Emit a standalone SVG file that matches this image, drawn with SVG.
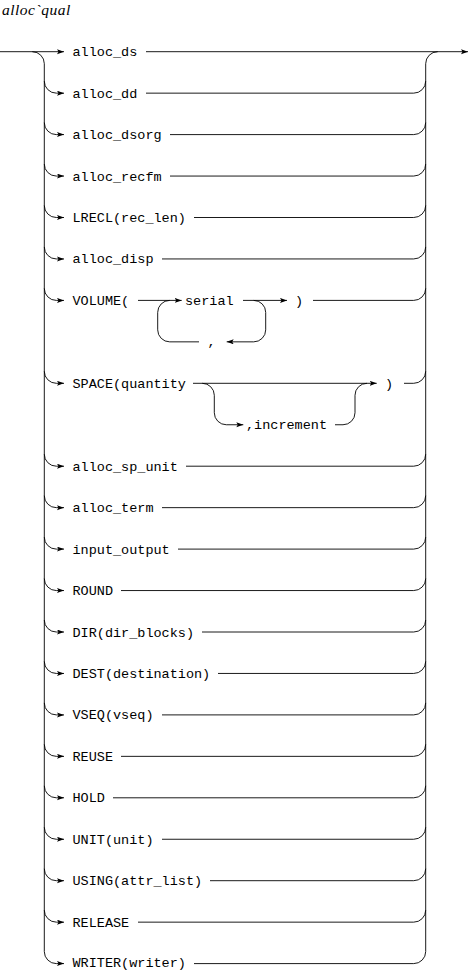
<svg xmlns="http://www.w3.org/2000/svg" width="469" height="970" viewBox="0 0 469 970">
<style>
.t{font-family:"Liberation Mono","DejaVu Sans Mono",monospace;font-size:13.5px;fill:#000}
.ti{font-family:"Liberation Serif","DejaVu Serif",serif;font-style:italic;font-size:15.5px;fill:#000}
#conn path{fill:none;stroke:#000;stroke-width:0.9}
.ar{marker-end:url(#a)}
</style>
<defs>
<marker id="a" markerUnits="userSpaceOnUse" markerWidth="8" markerHeight="6" refX="7" refY="2.5" orient="auto"><path d="M0,0 L7,2.5 L0,5 L1.5,2.5 Z" fill="#000"/></marker>
</defs>
<rect width="469" height="970" fill="#fff"/>
<text class="ti" x="2" y="14.5" letter-spacing="0.5">alloc`qual</text>
<g id="conn">
<path class="ar" d="M0,51.7 H64"/>
<path d="M32.3,51.7 A12,12 0 0 1 44.3,63.7 V951.6"/>
<path class="ar" d="M146,51.7 H468"/>
<path d="M425.7,951.6 V63.7 A12,12 0 0 1 437.7,51.7"/>
<!-- left branches -->
<path class="ar" d="M44.3,81.15 A12,12 0 0 0 56.3,93.15 H64"/>
<path class="ar" d="M44.3,122.6 A12,12 0 0 0 56.3,134.6 H64"/>
<path class="ar" d="M44.3,164.05 A12,12 0 0 0 56.3,176.05 H64"/>
<path class="ar" d="M44.3,205.5 A12,12 0 0 0 56.3,217.5 H64"/>
<path class="ar" d="M44.3,246.95 A12,12 0 0 0 56.3,258.95 H64"/>
<path class="ar" d="M44.3,288.4 A12,12 0 0 0 56.3,300.4 H64"/>
<path class="ar" d="M44.3,371.3 A12,12 0 0 0 56.3,383.3 H64"/>
<path class="ar" d="M44.3,454.2 A12,12 0 0 0 56.3,466.2 H64"/>
<path class="ar" d="M44.3,495.65 A12,12 0 0 0 56.3,507.65 H64"/>
<path class="ar" d="M44.3,537.1 A12,12 0 0 0 56.3,549.1 H64"/>
<path class="ar" d="M44.3,578.55 A12,12 0 0 0 56.3,590.55 H64"/>
<path class="ar" d="M44.3,620 A12,12 0 0 0 56.3,632 H64"/>
<path class="ar" d="M44.3,661.45 A12,12 0 0 0 56.3,673.45 H64"/>
<path class="ar" d="M44.3,702.9 A12,12 0 0 0 56.3,714.9 H64"/>
<path class="ar" d="M44.3,744.35 A12,12 0 0 0 56.3,756.35 H64"/>
<path class="ar" d="M44.3,785.8 A12,12 0 0 0 56.3,797.8 H64"/>
<path class="ar" d="M44.3,827.25 A12,12 0 0 0 56.3,839.25 H64"/>
<path class="ar" d="M44.3,868.7 A12,12 0 0 0 56.3,880.7 H64"/>
<path class="ar" d="M44.3,910.15 A12,12 0 0 0 56.3,922.15 H64"/>
<path class="ar" d="M44.3,951.6 A12,12 0 0 0 56.3,963.6 H64"/>
<!-- right joins -->
<path d="M146,93.15 H413.7 A12,12 0 0 0 425.7,81.15"/>
<path d="M170,134.6 H413.7 A12,12 0 0 0 425.7,122.6"/>
<path d="M170,176.05 H413.7 A12,12 0 0 0 425.7,164.05"/>
<path d="M194,217.5 H413.7 A12,12 0 0 0 425.7,205.5"/>
<path d="M162,258.95 H413.7 A12,12 0 0 0 425.7,246.95"/>
<path d="M313,300.4 H413.7 A12,12 0 0 0 425.7,288.4"/>
<path d="M404,383.3 H413.7 A12,12 0 0 0 425.7,371.3"/>
<path d="M186,466.2 H413.7 A12,12 0 0 0 425.7,454.2"/>
<path d="M162,507.65 H413.7 A12,12 0 0 0 425.7,495.65"/>
<path d="M178,549.1 H413.7 A12,12 0 0 0 425.7,537.1"/>
<path d="M121,590.55 H413.7 A12,12 0 0 0 425.7,578.55"/>
<path d="M202,632 H413.7 A12,12 0 0 0 425.7,620"/>
<path d="M218,673.45 H413.7 A12,12 0 0 0 425.7,661.45"/>
<path d="M162,714.9 H413.7 A12,12 0 0 0 425.7,702.9"/>
<path d="M121,756.35 H413.7 A12,12 0 0 0 425.7,744.35"/>
<path d="M113,797.8 H413.7 A12,12 0 0 0 425.7,785.8"/>
<path d="M162,839.25 H413.7 A12,12 0 0 0 425.7,827.25"/>
<path d="M210,880.7 H413.7 A12,12 0 0 0 425.7,868.7"/>
<path d="M138,922.15 H413.7 A12,12 0 0 0 425.7,910.15"/>
<path d="M194,963.6 H413.7 A12,12 0 0 0 425.7,951.6"/>
<!-- VOLUME -->
<path class="ar" d="M138,300.4 H181.7"/>
<path class="ar" d="M243,300.4 H287"/>
<path d="M169.7,300.4 A12,12 0 0 0 157.7,312.4 V329.85 A12,12 0 0 0 169.7,341.85 H199"/>
<path class="ar" d="M253.7,300.4 A12,12 0 0 1 265.7,312.4 V329.85 A12,12 0 0 1 253.7,341.85 H226.7"/>
<!-- SPACE -->
<path class="ar" d="M193,383.3 H376.7"/>
<path class="ar" d="M202.3,383.3 A12,12 0 0 1 214.3,395.3 V412.75 A12,12 0 0 0 226.3,424.75 H243.3"/>
<path d="M335,424.75 H343 A12,12 0 0 0 355,412.75 V395.3 A12,12 0 0 1 367,383.3"/>
</g>
<g id="n-alloc_ds"><text class="t" x="72.5" y="56.2">alloc_ds</text></g>
<g id="n-alloc_dd"><text class="t" x="72.5" y="97.65">alloc_dd</text></g>
<g id="n-alloc_dsorg"><text class="t" x="72.5" y="139.1">alloc_dsorg</text></g>
<g id="n-alloc_recfm"><text class="t" x="72.5" y="180.55">alloc_recfm</text></g>
<g id="n-lrecl"><text class="t" x="72.5" y="222">LRECL(rec_len)</text></g>
<g id="n-alloc_disp"><text class="t" x="72.5" y="263.45">alloc_disp</text></g>
<g id="n-volume"><text class="t" x="72.5" y="304.9">VOLUME(</text></g>
<g id="n-serial"><text class="t" x="185" y="304.9">serial</text></g>
<g id="n-volume-close"><text class="t" x="295" y="304.9">)</text></g>
<g id="n-comma"><text class="t" x="207.5" y="346.35">,</text></g>
<g id="n-space"><text class="t" x="72.5" y="387.8">SPACE(quantity</text></g>
<g id="n-space-close"><text class="t" x="385" y="387.8">)</text></g>
<g id="n-increment"><text class="t" x="246" y="429.25">,increment</text></g>
<g id="n-alloc_sp_unit"><text class="t" x="72.5" y="470.7">alloc_sp_unit</text></g>
<g id="n-alloc_term"><text class="t" x="72.5" y="512.15">alloc_term</text></g>
<g id="n-input_output"><text class="t" x="72.5" y="553.6">input_output</text></g>
<g id="n-round"><text class="t" x="72.5" y="595.05">ROUND</text></g>
<g id="n-dir"><text class="t" x="72.5" y="636.5">DIR(dir_blocks)</text></g>
<g id="n-dest"><text class="t" x="72.5" y="677.95">DEST(destination)</text></g>
<g id="n-vseq"><text class="t" x="72.5" y="719.4">VSEQ(vseq)</text></g>
<g id="n-reuse"><text class="t" x="72.5" y="760.85">REUSE</text></g>
<g id="n-hold"><text class="t" x="72.5" y="802.3">HOLD</text></g>
<g id="n-unit"><text class="t" x="72.5" y="843.75">UNIT(unit)</text></g>
<g id="n-using"><text class="t" x="72.5" y="885.2">USING(attr_list)</text></g>
<g id="n-release"><text class="t" x="72.5" y="926.65">RELEASE</text></g>
<g id="n-writer"><text class="t" x="72.5" y="967">WRITER(writer)</text></g>
</svg>
